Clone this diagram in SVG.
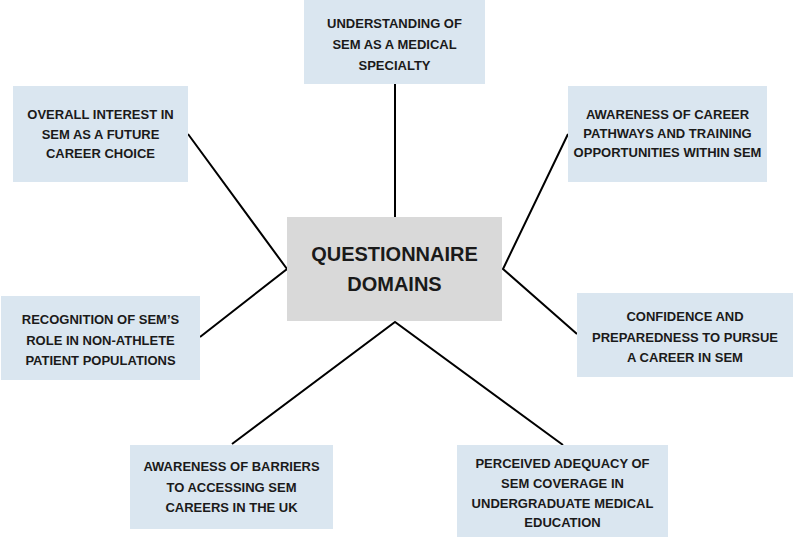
<svg xmlns="http://www.w3.org/2000/svg" width="794" height="537" viewBox="0 0 794 537">
<style>
.box{fill:#dae6f0}
.hub{fill:#d9d9d9}
.t{font-family:"Liberation Sans",Arial,sans-serif;font-weight:bold;font-size:13px;fill:#1a1a1a;text-anchor:middle}
.th{font-family:"Liberation Sans",Arial,sans-serif;font-weight:bold;font-size:20px;fill:#1a1a1a;text-anchor:middle}
.c{stroke:#000;stroke-width:2;fill:none;stroke-linejoin:miter}
</style>
<rect width="794" height="537" fill="#fff"/>
<g id="connectors">
<line class="c" x1="395" y1="84" x2="395" y2="217"/>
<polyline class="c" points="188,134 287,269 200,337"/>
<polyline class="c" points="568,134 503,269 577,334"/>
<polyline class="c" points="232,444 395,322 563,445"/>
</g>
<g id="hub">
<rect class="hub" x="287" y="217" width="215" height="104"/>
<text class="th" x="394.5" y="261">QUESTIONNAIRE</text>
<text class="th" x="394.5" y="291">DOMAINS</text>
</g>
<g id="n-understanding">
<rect class="box" x="304" y="0" width="181" height="84"/>
<text class="t" x="394.5" y="28">UNDERSTANDING OF</text>
<text class="t" x="394.5" y="49">SEM AS A MEDICAL</text>
<text class="t" x="394.5" y="70">SPECIALTY</text>
</g>
<g id="n-interest">
<rect class="box" x="13" y="86" width="175" height="96"/>
<text class="t" x="100.5" y="119">OVERALL INTEREST IN</text>
<text class="t" x="100.5" y="138.5">SEM AS A FUTURE</text>
<text class="t" x="100.5" y="158">CAREER CHOICE</text>
</g>
<g id="n-pathways">
<rect class="box" x="568" y="86" width="199" height="96"/>
<text class="t" x="667.5" y="119">AWARENESS OF CAREER</text>
<text class="t" x="667.5" y="138">PATHWAYS AND TRAINING</text>
<text class="t" x="667.5" y="157">OPPORTUNITIES WITHIN SEM</text>
</g>
<g id="n-recognition">
<rect class="box" x="1" y="296" width="199" height="84"/>
<text class="t" x="100.5" y="324">RECOGNITION OF SEM’S</text>
<text class="t" x="100.5" y="345">ROLE IN NON-ATHLETE</text>
<text class="t" x="100.5" y="365">PATIENT POPULATIONS</text>
</g>
<g id="n-confidence">
<rect class="box" x="577" y="293" width="216" height="84"/>
<text class="t" x="685" y="321">CONFIDENCE AND</text>
<text class="t" x="685" y="341.5">PREPAREDNESS TO PURSUE</text>
<text class="t" x="685" y="362">A CAREER IN SEM</text>
</g>
<g id="n-barriers">
<rect class="box" x="130" y="445" width="203" height="84"/>
<text class="t" x="231.5" y="471">AWARENESS OF BARRIERS</text>
<text class="t" x="231.5" y="492">TO ACCESSING SEM</text>
<text class="t" x="231.5" y="512">CAREERS IN THE UK</text>
</g>
<g id="n-adequacy">
<rect class="box" x="457" y="445" width="211" height="92"/>
<text class="t" x="562.5" y="468">PERCEIVED ADEQUACY OF</text>
<text class="t" x="562.5" y="488">SEM COVERAGE IN</text>
<text class="t" x="562.5" y="508">UNDERGRADUATE MEDICAL</text>
<text class="t" x="562.5" y="527">EDUCATION</text>
</g>
</svg>
